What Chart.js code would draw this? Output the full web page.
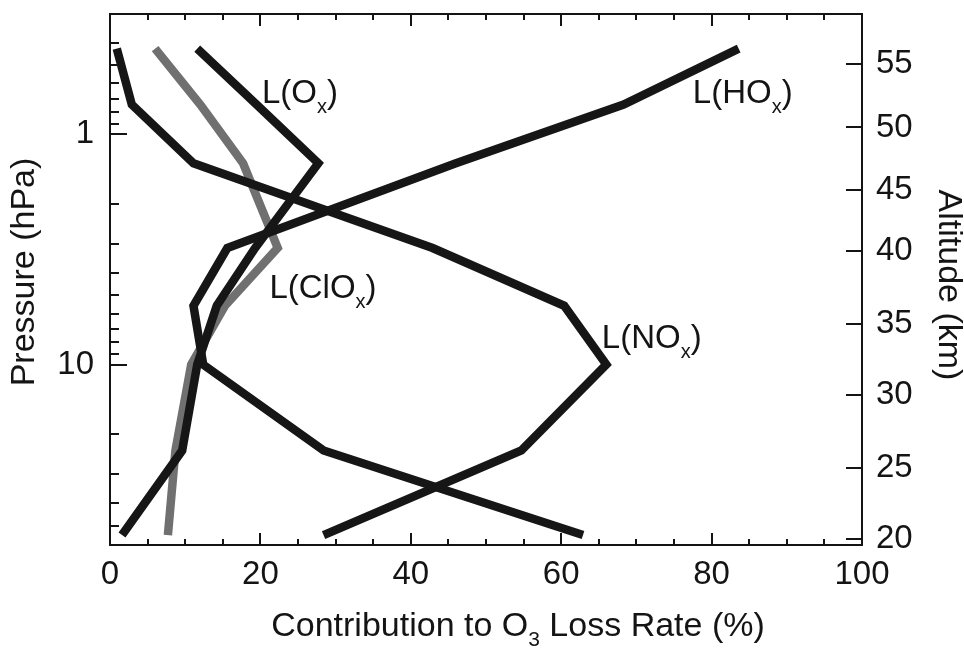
<!DOCTYPE html>
<html>
<head>
<meta charset="utf-8">
<script src="https://cdn.jsdelivr.net/npm/chart.js"></script>
<style>
  html, body { margin: 0; padding: 0; background: #fff; }
  #wrap { width: 964px; height: 653px; }
</style>
</head>
<body>
<div id="wrap"><canvas id="c" width="964" height="653"></canvas></div>
<script>
// pressure levels (hPa) of the profile points, top to bottom
const pressureLevels = [0.424, 0.742, 1.335, 3.115, 5.55, 10, 23.6, 55.0];
// contribution to O3 loss rate (%) at each level
const lossOx   = [11.6, 19.5, 27.7, 19.3, 14.2, 11.6, 9.6, 1.6];
const lossClOx = [6.0, 12.0, 17.7, 22.3, 15.3, 10.8, 8.7, 7.7];
const lossNOx  = [0.9, 2.9, 11.1, 42.9, 60.4, 66.0, 54.7, 28.4];
const lossHOx  = [83.6, 68.3, 46.0, 15.6, 11.1, 12.4, 28.4, 62.9];

// axes
const xTicks = [0, 20, 40, 60, 80, 100];
const xMinorTicks = [5, 10, 15, 25, 30, 35, 45, 50, 55, 65, 70, 75, 85, 90, 95];
const pressureTicks = [1, 10];
const pressureMinorTicks = [0.4, 0.5, 0.6, 0.7, 0.8, 0.9, 2, 3, 4, 5, 6, 7, 8, 9, 20, 30, 40, 50];
const altitudeTicks = [55, 50, 45, 40, 35, 30, 25, 20];
const altitudePressure = [0.493, 0.933, 1.748, 3.21, 6.65, 13.49, 28.2, 57.2];

const FONT = "'Liberation Sans', Arial, Helvetica, sans-serif";
const INK = '#141414';
Chart.defaults.font.family = FONT;
Chart.defaults.color = INK;

function profile(values) {
  return values.map((v, i) => ({ x: v, y: pressureLevels[i] }));
}

function line(label, values, color) {
  return {
    label: label,
    data: profile(values),
    borderColor: color,
    borderWidth: 8.5,
    borderCapStyle: 'butt',
    borderJoinStyle: 'miter',
    pointRadius: 0,
    tension: 0,
    fill: false
  };
}

// text with a subscript part: [main, sub, tail]
function subText(ctx, x, y, parts, size, align) {
  const big = size + 'px ' + FONT;
  const small = Math.round(size * 0.62) + 'px ' + FONT;
  ctx.font = big; const w1 = ctx.measureText(parts[0]).width;
  ctx.font = small; const w2 = ctx.measureText(parts[1]).width;
  ctx.font = big; const w3 = ctx.measureText(parts[2]).width;
  let left = x;
  if (align === 'center') left = x - (w1 + w2 + w3) / 2;
  ctx.textAlign = 'left';
  ctx.textBaseline = 'alphabetic';
  ctx.font = big; ctx.fillText(parts[0], left, y);
  ctx.font = small; ctx.fillText(parts[1], left + w1, y + size * 0.3);
  ctx.font = big; ctx.fillText(parts[2], left + w1 + w2, y);
}

const frame = {
  id: 'frame',
  afterDatasetsDraw(chart) {
    const { ctx, chartArea: a, scales } = chart;
    const x = scales.x, y = scales.y;
    ctx.save();
    ctx.strokeStyle = INK;
    ctx.lineWidth = 2;
    ctx.beginPath();
    // x ticks, bottom and top, pointing inward
    xTicks.concat(xMinorTicks).forEach(v => {
      const px = Math.round(x.getPixelForValue(v));
      const len = xTicks.includes(v) ? 12 : 6;
      ctx.moveTo(px, a.bottom); ctx.lineTo(px, a.bottom - len);
      ctx.moveTo(px, a.top); ctx.lineTo(px, a.top + len);
    });
    // pressure ticks on the left
    pressureTicks.concat(pressureMinorTicks).forEach(v => {
      const py = Math.round(y.getPixelForValue(v));
      const len = pressureTicks.includes(v) ? 17 : 9;
      ctx.moveTo(a.left, py); ctx.lineTo(a.left + len, py);
    });
    // altitude ticks on the right
    altitudePressure.forEach(p => {
      const py = Math.round(scales.y2.getPixelForValue(p));
      ctx.moveTo(a.right, py); ctx.lineTo(a.right - 16, py);
    });
    ctx.stroke();
    ctx.strokeRect(a.left, a.top, a.width, a.height);

    ctx.fillStyle = INK;
    // curve labels
    const lab = (vx, vp, parts) =>
      subText(ctx, x.getPixelForValue(vx), y.getPixelForValue(vp), parts, 33, 'left');
    lab(20.2, 0.734, ['L(O', 'x', ')']);
    lab(77.5, 0.734, ['L(HO', 'x', ')']);
    lab(21.2, 5.13, ['L(ClO', 'x', ')']);
    lab(65.4, 8.44, ['L(NO', 'x', ')']);

    // axis titles
    subText(ctx, 518, 636, ['Contribution to O', '3', ' Loss Rate (%)'], 34, 'center');

    ctx.font = '34px ' + FONT;
    ctx.textAlign = 'center';
    ctx.textBaseline = 'middle';
    ctx.save();
    ctx.translate(25, 272);
    ctx.rotate(-Math.PI / 2);
    ctx.fillText('Pressure (hPa)', 0, 0);
    ctx.restore();
    ctx.save();
    ctx.translate(948, 285);
    ctx.rotate(Math.PI / 2);
    ctx.fillText('Altitude (km)', 0, 0);
    ctx.restore();
    ctx.restore();
  }
};

const pMin = 0.3053, pMax = 60.75;

function fitSide(w) {
  return s => { s.width = w; s.paddingTop = 0; s.paddingBottom = 0; };
}

new Chart(document.getElementById('c'), {
  type: 'line',
  data: {
    datasets: [
      line('L(Ox)', lossOx, '#161616'),
      line('L(HOx)', lossHOx, '#161616'),
      line('L(NOx)', lossNOx, '#161616'),
      line('L(ClOx)', lossClOx, '#707070')
    ]
  },
  options: {
    responsive: false,
    animation: false,
    devicePixelRatio: 1,
    layout: { padding: { top: 14, left: 0, right: 0, bottom: 0 } },
    plugins: { legend: { display: false }, tooltip: { enabled: false } },
    scales: {
      x: {
        type: 'linear', position: 'bottom', min: 0, max: 100,
        grid: { display: false, drawTicks: false },
        border: { display: false },
        afterBuildTicks: s => { s.ticks = xTicks.map(v => ({ value: v })); },
        afterFit: s => { s.height = 108; s.paddingLeft = 0; s.paddingRight = 0; },
        ticks: { font: { size: 33 }, color: INK, padding: 10, maxRotation: 0, autoSkip: false,
                 callback: v => String(v) }
      },
      y: {
        type: 'logarithmic', position: 'left', reverse: true, min: pMin, max: pMax,
        grid: { display: false, drawTicks: false },
        border: { display: false },
        afterBuildTicks: s => { s.ticks = pressureTicks.map(v => ({ value: v })); },
        afterFit: fitSide(110),
        ticks: { font: { size: 33 }, color: INK, padding: 16, autoSkip: false,
                 callback: v => String(v) }
      },
      y2: {
        type: 'logarithmic', position: 'right', reverse: true, min: pMin, max: pMax,
        grid: { display: false, drawTicks: false },
        border: { display: false },
        afterBuildTicks: s => { s.ticks = altitudePressure.map(v => ({ value: v })); },
        afterFit: fitSide(102),
        ticks: { font: { size: 33 }, color: INK, padding: 14, autoSkip: false,
                 callback: (v, i) => String(altitudeTicks[i]) }
      }
    }
  },
  plugins: [frame]
});
</script>
</body>
</html>
